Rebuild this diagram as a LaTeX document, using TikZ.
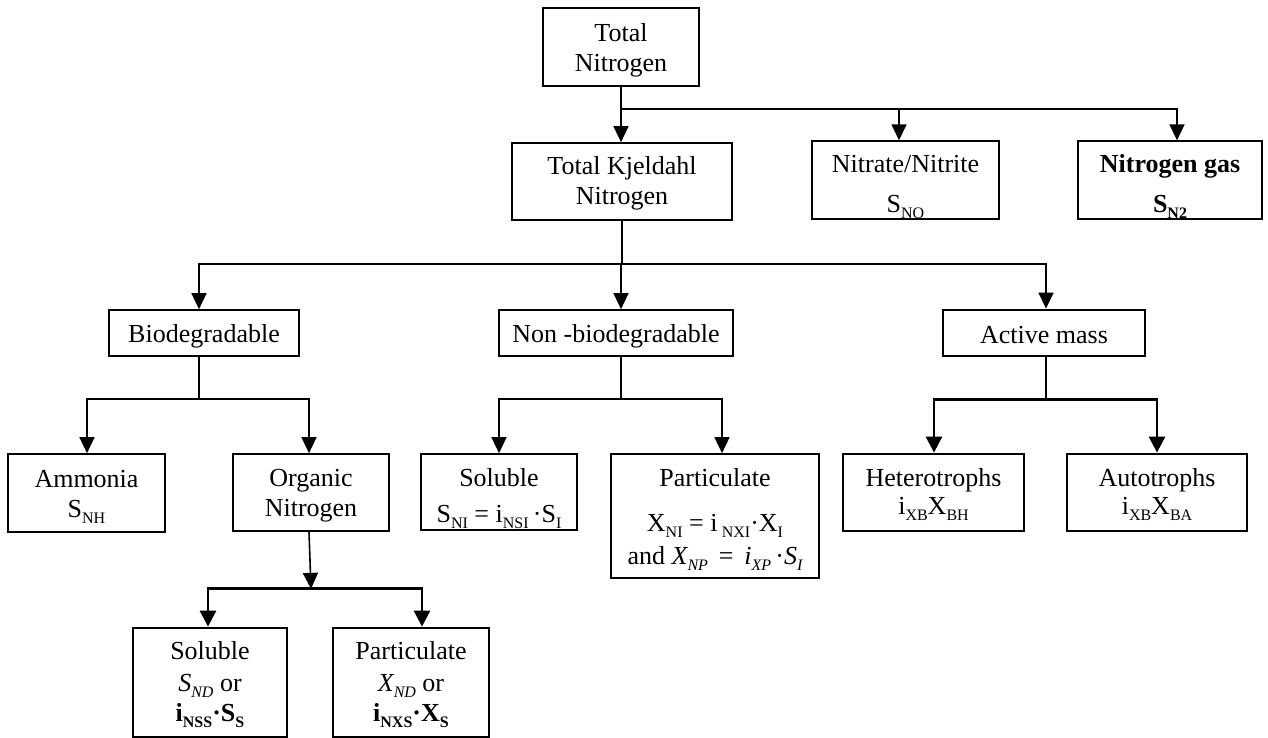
\documentclass[tikz,border=0pt]{standalone}
\usepackage{fontspec}
\setmainfont{Liberation Serif}
\usetikzlibrary{arrows.meta}

% lowered subscript in the surrounding font shape and series
\newcommand{\nsub}[1]{\raisebox{-6pt}{\fontsize{16}{16}\selectfont #1}}
% invisible strut fixing the height of the first line of a box
\newcommand{\tp}[1]{\rule{0pt}{#1pt}}

\begin{document}
\begin{tikzpicture}[x=1pt,y=-1pt,
  every node/.style={font=\fontsize{26}{30}\selectfont},
  box/.style={draw, line width=1.7pt, align=center, inner sep=0pt,
    execute at end node={\rule[-5.6pt]{0pt}{0pt}}},
  heavybox/.style={box, line width=2.8pt},
  link/.style={line width=1.6pt},
  heavylink/.style={line width=2.8pt},
  arr/.style={link, -{Triangle[length=16pt,width=15pt]}},
  heavyarr/.style={heavylink, -{Triangle[length=16pt,width=16pt]}}]

\useasboundingbox (0,0) rectangle (1268,738);

% level 0 and 1
\node[box, minimum width=156pt, minimum height=78pt] (tn) at (621,47) {\tp{25.6}Total\\Nitrogen};
\node[box, minimum width=220pt, minimum height=77pt] (tkn) at (622,181.5) {\tp{22.6}Total Kjeldahl\\Nitrogen};
\node[box, minimum width=187pt, minimum height=76pt] (nit) at (905.5,180) {\tp{31.6}Nitrate/Nitrite\\[10pt]S\nsub{NO}};
\node[box, minimum width=184pt, minimum height=76pt, font=\fontsize{26}{30}\selectfont\bfseries] (ngas) at (1170,180) {\tp{31.6}Nitrogen gas\\[10pt]S\nsub{N2}};

% level 2
\node[box, minimum width=190pt, minimum height=46pt] (bio) at (204,333) {\tp{25.6}Biodegradable};
\node[box, minimum width=234pt, minimum height=46pt] (nonbio) at (616,333) {\tp{25.6}Non -biodegradable};
\node[heavybox, minimum width=202pt, minimum height=46pt] (act) at (1044,333) {\tp{25.6}Active mass};

% level 3
\node[box, minimum width=157pt, minimum height=78pt] (amm) at (86.5,493) {\tp{25.6}Ammonia\\S\nsub{NH}};
\node[box, minimum width=156pt, minimum height=77pt] (org) at (311,492.5) {\tp{24.6}Organic\\Nitrogen};
\node[box, minimum width=156pt, minimum height=76pt] (sol) at (499,492)
  {\tp{31.6}Soluble\\[6pt]S\nsub{NI} = i\nsub{NSI}\,{\textperiodcentered}S\nsub{I}};
\node[box, minimum width=208pt, minimum height=124pt] (part) at (715,516)
  {\tp{25.6}Particulate\\[15pt]X\nsub{NI} = i\,\nsub{NXI}{\textperiodcentered}X\nsub{I}\\[3pt]and \textit{X\nsub{NP}}\, = \,\textit{i\nsub{XP}}\,{\textperiodcentered}\textit{S\nsub{I}}};
\node[heavybox, minimum width=181pt, minimum height=77pt] (het) at (933.5,492.5) {\tp{22.6}Heterotrophs\\[-2pt]i\nsub{XB}X\nsub{BH}};
\node[heavybox, minimum width=180pt, minimum height=77pt] (aut) at (1157,492.5) {\tp{22.6}Autotrophs\\[-2pt]i\nsub{XB}X\nsub{BA}};

% level 4
\node[heavybox, minimum width=154pt, minimum height=109pt] (sols) at (210,682.5)
  {\tp{22.6}Soluble\\[2pt]\textit{S\nsub{ND}} or\\\textbf{i\nsub{NSS}{\textperiodcentered}S\nsub{S}}};
\node[heavybox, minimum width=156pt, minimum height=109pt] (parts) at (411,682.5)
  {\tp{22.6}Particulate\\[2pt]\textit{X\nsub{ND}} or\\\textbf{i\nsub{NXS}{\textperiodcentered}X\nsub{S}}};

% junction points of the branching connectors
\path (tn.south) ++(0,22) coordinate (j1);
\path (tkn.south) ++(0,43) coordinate (j2);
\path ([xshift=-5pt]bio.south) ++(0,42) coordinate (j3);
\path ([xshift=5pt]nonbio.south) ++(0,42) coordinate (j4);
\path ([xshift=2pt]act.south) ++(0,42) coordinate (j5);
\path ([xshift=-2pt]org.south) ++(2,57) coordinate (j6);

% total nitrogen split
\draw[arr] (tn.south) -- (tn.south |- tkn.north);
\draw[arr] (j1) -| ([xshift=-6.5pt]nit.north);
\draw[arr] (j1) -| ([xshift=7pt]ngas.north);

% Kjeldahl split
\draw[link] (tkn.south) -- (j2);
\draw[arr] (j2) -| ([xshift=-5pt]bio.north);
\draw[arr] (j2) -| ([xshift=5pt]nonbio.north);
\draw[arr] (j2) -| ([xshift=2pt]act.north);

% biodegradable split
\draw[link] ([xshift=-5pt]bio.south) -- (j3);
\draw[arr] (j3) -| ([xshift=0.5pt]amm.north);
\draw[arr] (j3) -| ([xshift=-2pt]org.north);

% non-biodegradable split
\draw[link] ([xshift=5pt]nonbio.south) -- (j4);
\draw[arr] (j4) -| (sol.north);
\draw[arr] (j4) -| ([xshift=7pt]part.north);

% active mass split
\draw[heavylink] ([xshift=2pt]act.south) -- (j5);
\draw[heavyarr] (j5) -| ([xshift=0.5pt]het.north);
\draw[heavyarr] (j5) -| (aut.north);

% organic nitrogen split
\draw[arr] ([xshift=-2pt]org.south) -- (j6);
\draw[heavyarr] (j6) -| ([xshift=-2pt]sols.north);
\draw[heavyarr] (j6) -| ([xshift=11pt]parts.north);

\end{tikzpicture}
\end{document}
